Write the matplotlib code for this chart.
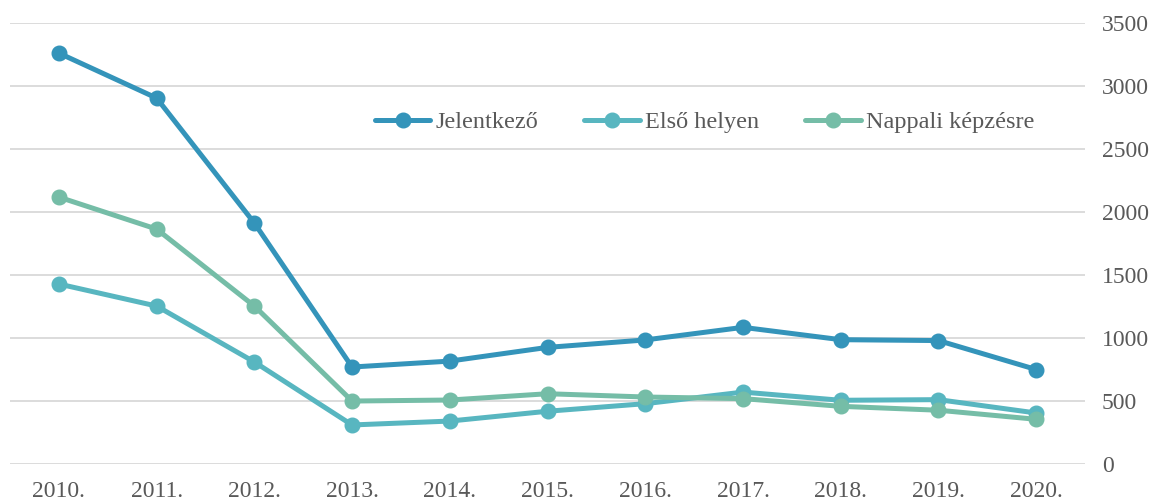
import matplotlib
matplotlib.use("Agg")
import matplotlib.pyplot as plt

# adatok (leolvasva az ábráról)
years = ["2010.", "2011.", "2012.", "2013.", "2014.", "2015.",
         "2016.", "2017.", "2018.", "2019.", "2020."]
jelentkezo = [3262, 2905, 1913, 770, 817, 926, 985, 1085, 987, 980, 750]
elso_helyen = [1429, 1254, 810, 310, 341, 419, 479, 571, 506, 511, 405]
nappali = [2119, 1865, 1254, 500, 508, 558, 532, 519, 458, 427, 355]

series = [
    ("Jelentkező", jelentkezo, "#3494BA"),
    ("Első helyen", elso_helyen, "#58B6C0"),
    ("Nappali képzésre", nappali, "#75BDA7"),
]

plt.rcParams['font.family'] = ['Liberation Serif', 'DejaVu Serif']
text_col = "#595959"

fig = plt.figure(figsize=(11.65, 5.03), dpi=100)
ax = fig.add_axes([0.0086, 0.0775, 0.9228, 0.8765])

x = list(range(len(years)))
for name, vals, col in series:
    ax.plot(x, vals, color=col, lw=3.6, marker='o', markersize=10.5,
            label=name, solid_capstyle='round', zorder=3)

ax.set_xlim(-0.5, len(years) - 0.5)
ax.set_ylim(0, 3500)
ax.set_yticks(range(0, 3501, 500))
ax.set_xticks(x)
ax.set_xticklabels(years)
ax.yaxis.tick_right()
ax.grid(axis='y', color='#D9D9D9', lw=1.3)
ax.set_axisbelow(True)
for s in ax.spines.values():
    s.set_visible(False)
ax.tick_params(length=0, labelsize=17, colors=text_col)
ax.tick_params(axis='x', pad=12)
ax.tick_params(axis='y', pad=12)

leg = ax.legend(loc='center', bbox_to_anchor=(0.646, 0.775), ncol=3,
                frameon=False, fontsize=17.5, handlelength=2.3,
                columnspacing=1.9, handletextpad=0.2)
for t in leg.get_texts():
    t.set_color(text_col)

fig.savefig("out.png", dpi=100)
